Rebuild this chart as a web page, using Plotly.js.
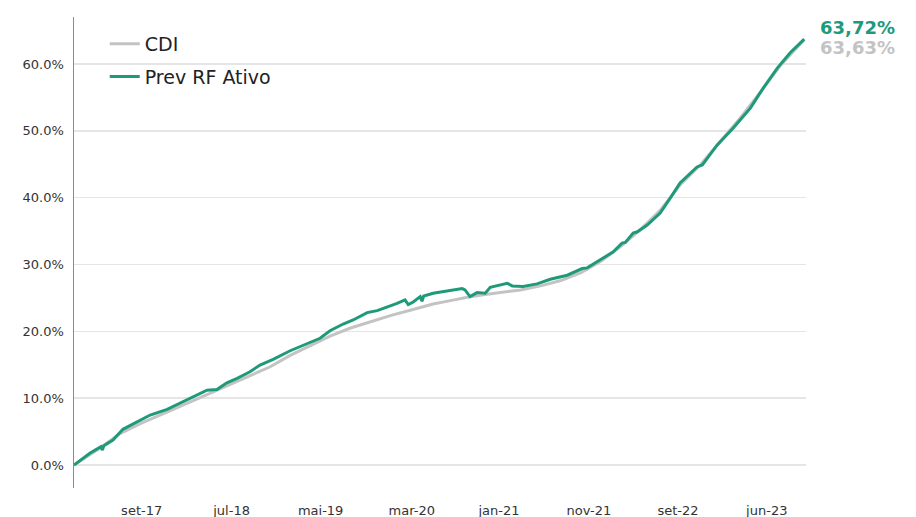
<!DOCTYPE html>
<html>
<head>
<meta charset="utf-8">
<script src="https://cdn.plot.ly/plotly-3.0.1.min.js"></script>
<style>html,body{margin:0;padding:0;background:#fff;}#chart{width:916px;height:517px;}</style>
</head>
<body>
<div id="chart"></div>
<script>
// Prev RF Ativo (cumulative return, %)
const fundDates = ["2017-01-02","2017-02-25","2017-04-04","2017-04-09","2017-04-14","2017-05-15","2017-06-18","2017-08-05","2017-09-19","2017-11-16","2018-01-09","2018-02-26","2018-04-01","2018-05-05","2018-06-08","2018-07-13","2018-08-26","2018-09-29","2018-11-13","2019-01-10","2019-03-09","2019-04-22","2019-05-26","2019-07-10","2019-08-13","2019-09-30","2019-11-03","2019-12-07","2020-01-10","2020-02-06","2020-02-17","2020-03-05","2020-03-29","2020-04-04","2020-04-10","2020-05-12","2020-06-29","2020-08-19","2020-08-29","2020-09-15","2020-10-09","2020-11-06","2020-11-23","2020-12-27","2021-01-20","2021-02-06","2021-03-15","2021-05-02","2021-06-16","2021-08-13","2021-10-03","2021-10-20","2021-12-03","2022-01-17","2022-02-16","2022-02-27","2022-03-26","2022-04-09","2022-05-13","2022-06-26","2022-07-30","2022-09-02","2022-10-30","2022-11-17","2023-01-07","2023-03-02","2023-04-30","2023-06-13","2023-07-31","2023-09-13","2023-10-31"];
const fundValues = [0,1.75,2.74,2.24,2.9,3.74,5.34,6.48,7.48,8.33,9.47,10.6,11.2,11.3,12.3,12.97,13.96,14.96,15.8,17.1,18.1,18.96,20.1,21.1,21.7,22.8,23.1,23.6,24.2,24.7,24.0,24.4,25.2,24.5,25.3,25.7,26.0,26.4,26.2,25.2,25.8,25.7,26.6,26.9,27.2,26.8,26.7,27.1,27.8,28.4,29.4,29.5,30.7,31.9,33.2,33.3,34.7,34.9,35.9,37.7,39.9,42.2,44.6,44.9,47.9,50.4,53.4,56.4,59.4,61.7,63.72];

// CDI (cumulative, %)
const cdiDates = ["2017-01-02","2017-03-31","2017-06-08","2017-08-22","2017-12-05","2018-03-21","2018-07-04","2018-08-26","2018-11-03","2019-01-10","2019-03-20","2019-05-26","2019-08-04","2019-10-12","2019-12-21","2020-02-27","2020-05-12","2020-07-10","2020-09-06","2020-11-06","2020-12-27","2021-03-06","2021-05-14","2021-07-22","2021-09-29","2021-12-03","2022-02-09","2022-04-19","2022-06-26","2022-09-02","2022-11-10","2023-01-18","2023-03-28","2023-06-05","2023-08-13","2023-10-31"];
const cdiValues = [0,2.5,4.7,6.3,8.3,10.3,12.3,13.3,14.7,16.4,17.9,19.3,20.5,21.5,22.4,23.2,24.1,24.6,25.1,25.5,25.8,26.2,26.8,27.6,28.8,30.4,32.6,35.2,38.1,41.9,44.9,48.5,52.0,55.9,59.9,63.63];

const tickDates = ["2017-08-21","2018-06-24","2019-04-24","2020-02-29","2020-12-23","2021-10-26","2022-08-26","2023-06-25"];
const tickLabels = ["set-17","jul-18","mai-19","mar-20","jan-21","nov-21","set-22","jun-23"];
const yTicks = [0,10,20,30,40,50,60];

const GREEN = "#1e9a7b";
const GREY = "#c3c3c3";
const FONT = "DejaVu Sans, Verdana, sans-serif";

function fmt(v){ return v.toFixed(2).replace(".", ",") + "%"; }

const traces = [
  {x: cdiDates, y: cdiValues, name: "CDI", type: "scatter", mode: "lines",
   line: {color: GREY, width: 3}, legendgroup: "a"},
  {x: fundDates, y: fundValues, name: "Prev RF Ativo", type: "scatter", mode: "lines",
   line: {color: GREEN, width: 3}, legendgroup: "b"}
];

const layout = {
  width: 916, height: 517,
  margin: {l: 74, r: 110, t: 17, b: 29},
  paper_bgcolor: "#fff", plot_bgcolor: "#fff",
  font: {family: FONT, color: "#333"},
  showlegend: true,
  legend: {x: 0.042, y: 0.983, xanchor: "left", yanchor: "top",
    font: {family: FONT, size: 19, color: "#222"}, bgcolor: "rgba(0,0,0,0)",
    traceorder: "grouped", tracegroupgap: 5},
  xaxis: {type: "date", range: ["2017-01-02", "2023-11-06"],
    tickvals: tickDates, ticktext: tickLabels,
    showgrid: false, zeroline: false, showline: false,
    ticks: "outside", ticklen: 10, tickcolor: "rgba(0,0,0,0)",
    tickfont: {family: FONT, size: 13, color: "#333"}},
  yaxis: {range: [-3.44, 67.04], tickvals: yTicks,
    ticktext: yTicks.map(v => v.toFixed(1) + "%"),
    showgrid: true, gridcolor: "#e5e5e5", gridwidth: 1.5,
    zeroline: false, showline: true, linecolor: "#8c8c8c", linewidth: 1.5,
    ticks: "outside", ticklen: 6, tickcolor: "rgba(0,0,0,0)",
    tickfont: {family: FONT, size: 13, color: "#333"}},
  annotations: [
    {xref: "paper", yref: "paper", x: 1.016, y: 0.977, xanchor: "left", yanchor: "middle",
     text: "<b>" + fmt(fundValues[fundValues.length-1]) + "</b>", showarrow: false,
     font: {family: FONT, size: 18, color: GREEN}},
    {xref: "paper", yref: "paper", x: 1.016, y: 0.936, xanchor: "left", yanchor: "middle",
     text: "<b>" + fmt(cdiValues[cdiValues.length-1]) + "</b>", showarrow: false,
     font: {family: FONT, size: 18, color: GREY}}
  ]
};

Plotly.newPlot("chart", traces, layout, {displayModeBar: false, staticPlot: true});
</script>
</body>
</html>
